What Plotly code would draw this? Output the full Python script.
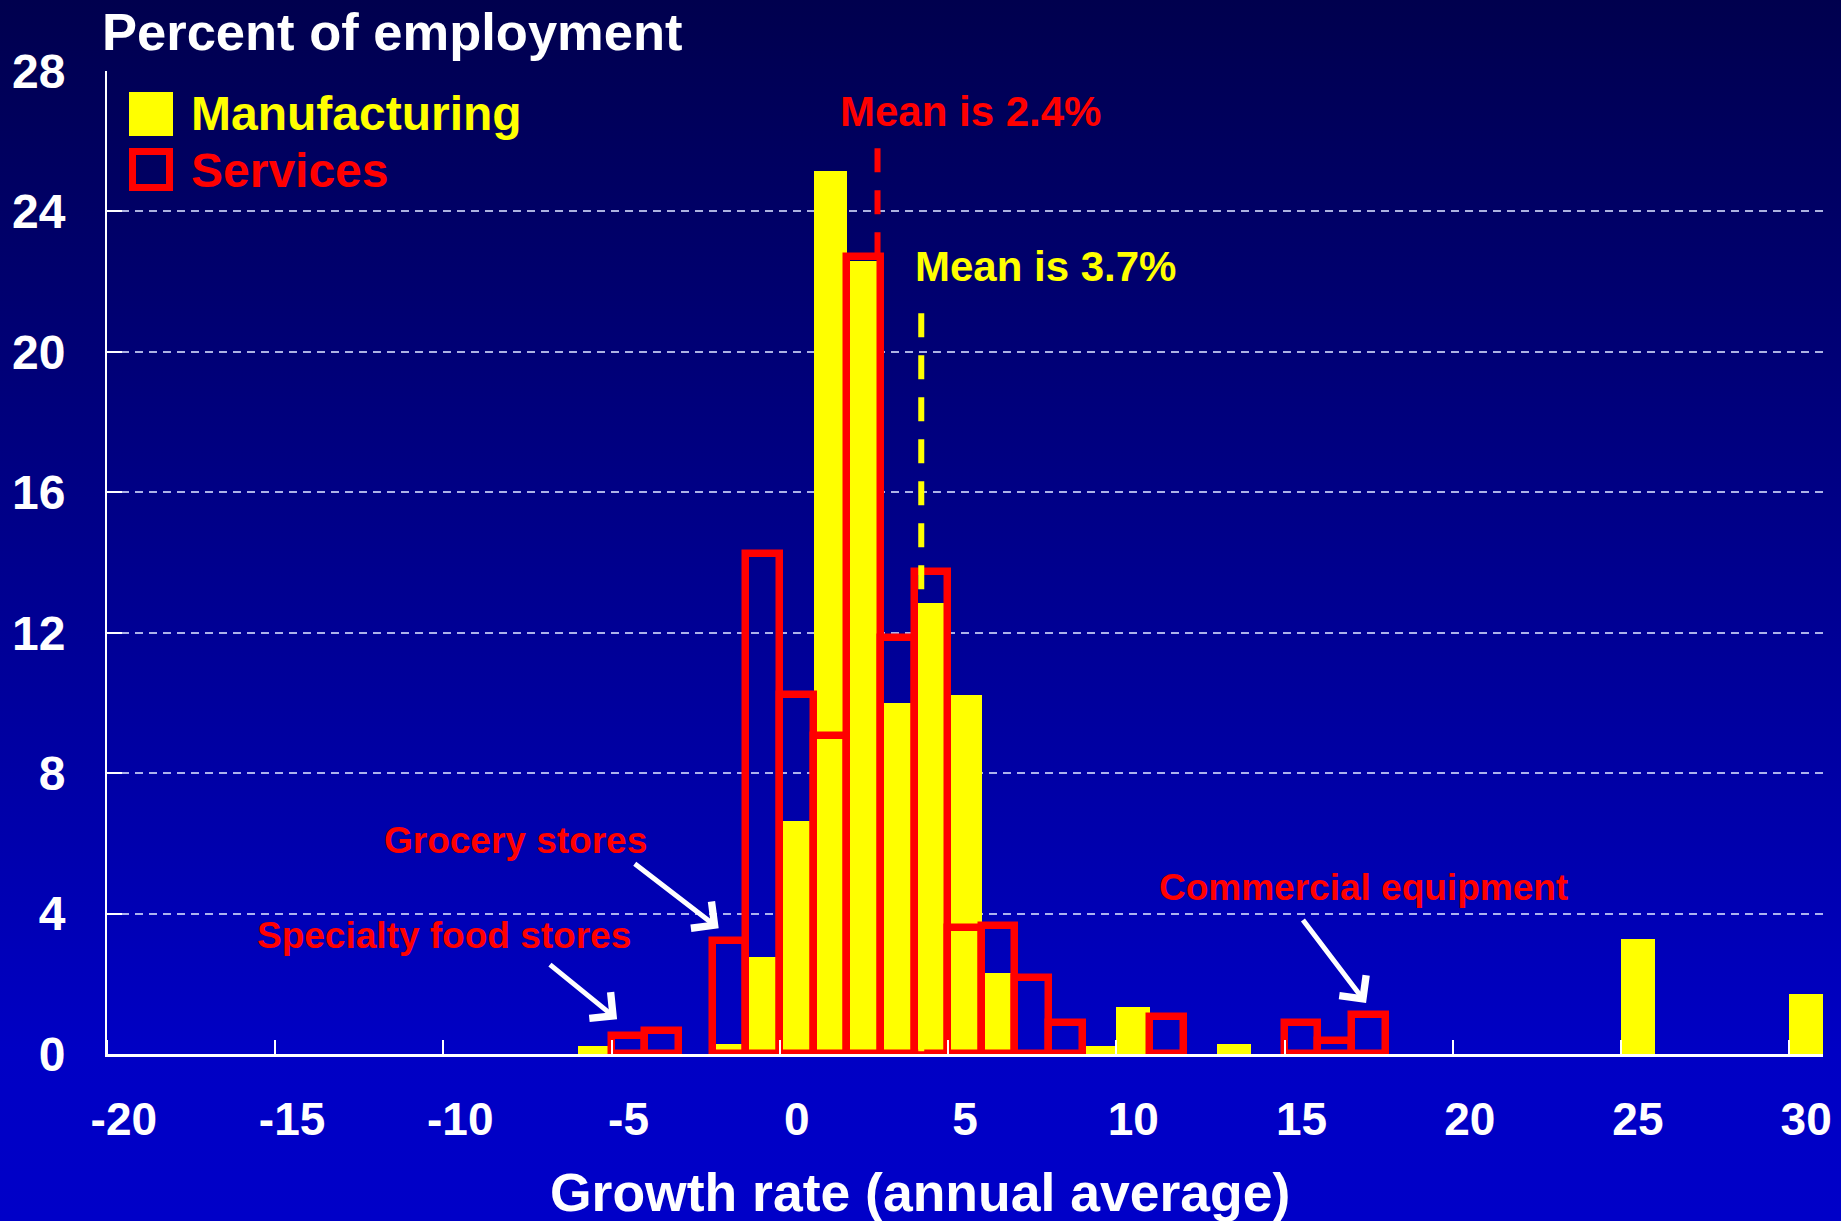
import base64
import plotly.graph_objects as go

# ---------------- data ----------------
manufacturing_bins = [-6, -2, -1, 0, 1, 2, 3, 4, 5, 6, 9, 10, 13, 25, 30]
manufacturing_pct = [0.23, 0.28, 2.77, 6.63, 25.16, 22.6, 10.0, 12.85, 10.23, 2.3, 0.23, 1.34, 0.28, 3.28, 1.71]

services_bins = [-5, -4, -2, -1, 0, 1, 2, 3, 4, 5, 6, 7, 8, 11, 15, 16, 17]
services_pct = [0.52, 0.66, 3.23, 14.23, 10.23, 9.07, 22.7, 11.86, 13.73, 3.58, 3.64, 2.17, 0.88, 1.05, 0.89, 0.38, 1.11]

x_tick_values = [-20, -15, -10, -5, 0, 5, 10, 15, 20, 25, 30]
x_tick_labels = ["-20", "-15", "-10", "-5", "0", "5", "10", "15", "20", "25", "30"]
y_tick_values = [0, 4, 8, 12, 16, 20, 24, 28]

mean_services = 2.4
mean_manufacturing = 3.7

# ---------------- geometry helpers ----------------
W, H = 1841, 1221
ML, MR, MT, MB = 107, 18, 71, 167
PW = W - ML - MR
PH = H - MT - MB
FONT = "Liberation Sans, Arial, sans-serif"
YELLOW = "#FFFF00"
RED = "#FF0000"


def px(xp):
    return (xp - ML) / PW


def py(yp):
    return (H - MB - yp) / PH


# gradient background (svg data uri)
svg = (
    "<svg xmlns='http://www.w3.org/2000/svg' width='1841' height='1221' preserveAspectRatio='none'>"
    "<defs><linearGradient id='g' x1='0' y1='0' x2='0' y2='1'>"
    "<stop offset='0' stop-color='#00004e'/>"
    "<stop offset='0.86' stop-color='#0000c4'/>"
    "<stop offset='1' stop-color='#0000c8'/>"
    "</linearGradient></defs>"
    "<rect x='0' y='0' width='1841' height='1221' fill='url(#g)'/></svg>"
)
bg_uri = "data:image/svg+xml;base64," + base64.b64encode(svg.encode()).decode()

fig = go.Figure()

fig.add_trace(go.Bar(
    x=manufacturing_bins, y=manufacturing_pct, width=1,
    marker=dict(color=YELLOW, line=dict(width=0)),
    name="Manufacturing", cliponaxis=False, showlegend=False,
))
fig.add_trace(go.Bar(
    x=services_bins, y=services_pct, width=1,
    marker=dict(color="rgba(0,0,0,0)", line=dict(color=RED, width=7.5)),
    name="Services", cliponaxis=False, showlegend=False,
))

shapes = [
    # legend glyphs
    dict(type="rect", xref="paper", yref="paper", x0=px(129), x1=px(173), y0=py(136), y1=py(92),
         fillcolor=YELLOW, line=dict(width=0)),
    dict(type="rect", xref="paper", yref="paper", x0=px(132.5), x1=px(169.5), y0=py(187.5), y1=py(151.5),
         fillcolor="rgba(0,0,0,0)", line=dict(color=RED, width=7)),
    # mean lines
    dict(type="line", xref="x", yref="y", x0=mean_services, x1=mean_services, y0=25.8, y1=22.8,
         line=dict(color=RED, width=6, dash="24px,18px"), layer="above"),
    dict(type="line", xref="x", yref="y", x0=mean_manufacturing, x1=mean_manufacturing, y0=21.1, y1=0,
         line=dict(color=YELLOW, width=6, dash="24px,18px"), layer="above"),
]


def text_ann(text, xp, yp, size, color, xanchor="center", yanchor="middle"):
    return dict(text=text, x=px(xp), y=py(yp), xref="paper", yref="paper",
                xanchor=xanchor, yanchor=yanchor, showarrow=False,
                font=dict(family=FONT, size=size, color=color, weight="bold"))


def arrow_ann(x_tail, y_tail, x_tip, y_tip):
    return dict(text="", x=x_tip, y=y_tip, ax=x_tail, ay=y_tail,
                xref="x", yref="y", axref="x", ayref="y",
                showarrow=True, arrowhead=4, arrowsize=1.3, arrowwidth=5,
                arrowcolor="white", standoff=0, startstandoff=0)


annotations = [
    text_ann("Percent of employment", 100, 0.5, 52.5, "white", "left", "top"),
    text_ann("Manufacturing", 188.5, 114, 48, YELLOW, "left"),
    text_ann("Services", 189, 171, 48, RED, "left"),
    text_ann("Mean is 2.4%", 970, 111, 42, RED),
    text_ann("Mean is 3.7%", 1045.5, 267, 42, YELLOW),
    text_ann("Grocery stores", 515, 840, 37, RED),
    text_ann("Specialty food stores", 444, 935, 37, RED),
    text_ann("Commercial equipment", 1363, 887, 37, RED),
    text_ann("Growth rate (annual average)", 920, 1192, 53.5, "white"),
    arrow_ann(-4.86, 5.45, -2.32, 3.58),
    arrow_ann(-7.38, 2.58, -5.34, 0.99),
    arrow_ann(15.01, 3.86, 16.92, 1.45),
]

fig.update_layout(
    width=W, height=H,
    margin=dict(l=ML, r=MR, t=MT, b=MB, pad=0),
    paper_bgcolor="#000090",
    plot_bgcolor="rgba(0,0,0,0)",
    barmode="overlay",
    bargap=0,
    showlegend=False,
    shapes=shapes,
    annotations=annotations,
    images=[dict(source=bg_uri, xref="paper", yref="paper", x=px(0), y=py(0),
                 sizex=W / PW, sizey=H / PH, xanchor="left", yanchor="top",
                 sizing="stretch", layer="below")],
    xaxis=dict(
        range=[-20.5, 30.5], autorange=False,
        tickmode="array", tickvals=x_tick_values, ticktext=x_tick_labels,
        ticks="", showgrid=False, zeroline=False,
        showline=True, linecolor="white", linewidth=3,
        tickfont=dict(family=FONT, size=46, color="white", weight="bold"),
        ticklabelstandoff=23,
        minor=dict(tickmode="array", tickvals=[v - 0.5 for v in x_tick_values],
                   ticks="inside", ticklen=14, tickwidth=2, tickcolor="white", showgrid=False),
        automargin=False, fixedrange=True,
    ),
    yaxis=dict(
        range=[0, 28], autorange=False,
        tickmode="array", tickvals=y_tick_values,
        ticks="inside", ticklen=15, tickwidth=2, tickcolor="white",
        showgrid=True, gridcolor="rgba(215,222,255,0.8)", gridwidth=1.5, griddash="8px,6px",
        zeroline=False,
        showline=True, linecolor="white", linewidth=2,
        tickfont=dict(family=FONT, size=48, color="white", weight="bold"),
        ticklabelstandoff=30,
        automargin=False, fixedrange=True,
    ),
)

fig.write_html(
    "out.html",
    config={"displayModeBar": False},
    post_script="document.body.style.margin='0';document.body.style.overflow='hidden';",
)
